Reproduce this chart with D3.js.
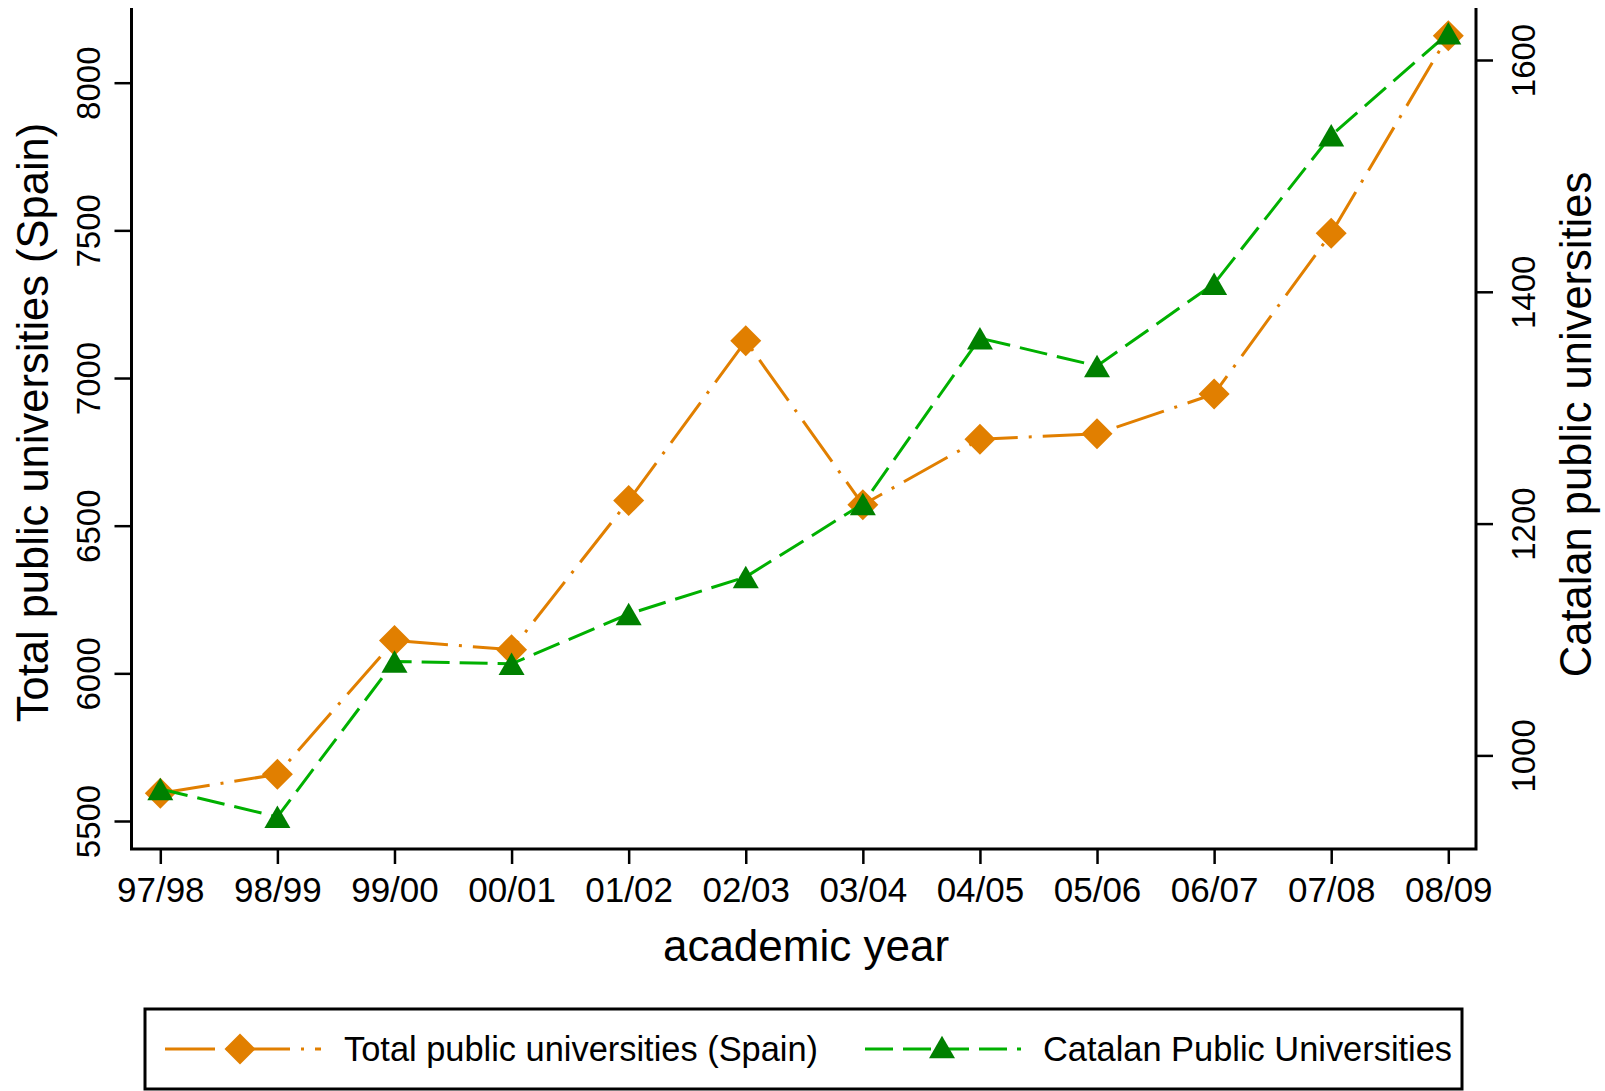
<!DOCTYPE html>
<html>
<head>
<meta charset="utf-8">
<script src="https://cdn.jsdelivr.net/npm/d3@7"></script>
<style>
  html, body { margin: 0; padding: 0; background: #ffffff; }
  svg { display: block; font-family: "Liberation Sans", Arial, Helvetica, sans-serif; }
</style>
</head>
<body>
<svg id="chart" width="1605" height="1091"></svg>
<script>
// ---------- data ----------
const years = ["97/98","98/99","99/00","00/01","01/02","02/03","03/04","04/05","05/06","06/07","07/08","08/09"];
const spainValues = [5594, 5658, 6111, 6080, 6585, 7126, 6571, 6793, 6811, 6946, 7490, 8159];
const catalanValues = [971, 947, 1081, 1079, 1122, 1154, 1217, 1360, 1336, 1407, 1535, 1623];
const leftTicks = [5500, 6000, 6500, 7000, 7500, 8000];
const rightTicks = [1000, 1200, 1400, 1600];
const seriesNames = ["Total public universities (Spain)", "Catalan Public Universities"];

// ---------- layout ----------
const frame = { left: 131.5, right: 1476, top: 8, bottom: 849 };
const orange = "#E17F00";
const greenLine = "#00B000";
const greenMark = "#008000";

const svg = d3.select("#chart");

const x = d3.scalePoint().domain(years).range([160.3, 1448.3]);
const yL = d3.scaleLinear().domain([5500, 8000]).range([821, 82.7]);
const yR = d3.scaleLinear().domain([1000, 1600]).range([755.4, 60]);

// ---------- axes ----------
const yTickFont = 33;
const xTickFont = 35;

const gL = svg.append("g").attr("transform", `translate(${frame.left},0)`)
  .call(d3.axisLeft(yL).tickValues(leftTicks).tickSize(17).tickSizeOuter(0).tickFormat(d3.format("d")));
gL.select(".domain").remove();
gL.selectAll(".tick line").attr("stroke", "#000").attr("stroke-width", 2.5);
gL.selectAll(".tick text")
  .attr("transform", "rotate(-90)")
  .attr("x", 0).attr("y", -31.5).attr("dy", null)
  .attr("text-anchor", "middle")
  .attr("fill", "#000")
  .style("font-size", yTickFont + "px")
  .style("font-family", '"Liberation Sans", Arial, sans-serif');

const gR = svg.append("g").attr("transform", `translate(${frame.right},0)`)
  .call(d3.axisRight(yR).tickValues(rightTicks).tickSize(17).tickSizeOuter(0).tickFormat(d3.format("d")));
gR.select(".domain").remove();
gR.selectAll(".tick line").attr("stroke", "#000").attr("stroke-width", 2.5);
gR.selectAll(".tick text")
  .attr("transform", "rotate(-90)")
  .attr("x", 0).attr("y", 59).attr("dy", null)
  .attr("text-anchor", "middle")
  .attr("fill", "#000")
  .style("font-size", yTickFont + "px")
  .style("font-family", '"Liberation Sans", Arial, sans-serif');

const gX = svg.append("g").attr("transform", `translate(0,${frame.bottom})`)
  .call(d3.axisBottom(x).tickSize(15).tickSizeOuter(0));
gX.select(".domain").remove();
gX.selectAll(".tick line").attr("stroke", "#000").attr("stroke-width", 2.5);
gX.selectAll(".tick text")
  .attr("y", 53).attr("dy", null)
  .attr("fill", "#000")
  .style("font-size", xTickFont + "px")
  .style("font-family", '"Liberation Sans", Arial, sans-serif');

// frame lines (left, bottom, right)
svg.append("path")
  .attr("d", `M${frame.left},${frame.top}V${frame.bottom}H${frame.right}V${frame.top}`)
  .attr("fill", "none").attr("stroke", "#000").attr("stroke-width", 3);

// axis titles
svg.append("text")
  .attr("transform", `translate(48,${(frame.top + frame.bottom) / 2 - 6}) rotate(-90)`)
  .attr("text-anchor", "middle")
  .style("font-size", "43.5px")
  .text("Total public universities (Spain)");

svg.append("text")
  .attr("transform", `translate(1591,${(frame.top + frame.bottom) / 2 - 4}) rotate(-90)`)
  .attr("text-anchor", "middle")
  .style("font-size", "43.5px")
  .text("Catalan public universities");

svg.append("text")
  .attr("x", 806).attr("y", 961)
  .attr("text-anchor", "middle")
  .style("font-size", "44px")
  .text("academic year");

// ---------- series ----------
const orangeDash = "50,11,3,11";
const greenDash = "28,10";
const diagonal = 31;
const diamond = d3.symbol().type(d3.symbolSquare).size((diagonal / Math.SQRT2) ** 2);
const triSide = 26;
const triSize = Math.sqrt(3) / 4 * triSide * triSide;
const triH = Math.sqrt(3) / 2 * triSide;
const triangle = d3.symbol().type(d3.symbolTriangle).size(triSize);

const spainData = years.map((y, i) => ({ year: y, v: spainValues[i] }));
const catData = years.map((y, i) => ({ year: y, v: catalanValues[i] }));

svg.append("path")
  .datum(spainData)
  .attr("d", d3.line().x(d => x(d.year)).y(d => yL(d.v)))
  .attr("fill", "none").attr("stroke", orange).attr("stroke-width", 3)
  .attr("stroke-dasharray", orangeDash);

svg.append("g").selectAll("path").data(spainData).join("path")
  .attr("d", diamond)
  .attr("transform", d => `translate(${x(d.year)},${yL(d.v)}) rotate(45)`)
  .attr("fill", orange);

svg.append("path")
  .datum(catData)
  .attr("d", d3.line().x(d => x(d.year)).y(d => yR(d.v)))
  .attr("fill", "none").attr("stroke", greenLine).attr("stroke-width", 3)
  .attr("stroke-dasharray", greenDash);

svg.append("g").selectAll("path").data(catData).join("path")
  .attr("d", triangle)
  .attr("transform", d => `translate(${x(d.year)},${yR(d.v) + triH / 6})`)
  .attr("fill", greenMark);

// ---------- legend ----------
const lg = svg.append("g");
lg.append("rect")
  .attr("x", 145).attr("y", 1009).attr("width", 1317).attr("height", 80)
  .attr("fill", "#fff").attr("stroke", "#000").attr("stroke-width", 3);

const legendY = 1049;
lg.append("line")
  .attr("x1", 165).attr("x2", 321).attr("y1", legendY).attr("y2", legendY)
  .attr("stroke", orange).attr("stroke-width", 3).attr("stroke-dasharray", orangeDash);
lg.append("path").attr("d", diamond)
  .attr("transform", `translate(240,${legendY}) rotate(45)`).attr("fill", orange);
lg.append("text").attr("x", 344).attr("y", legendY + 12)
  .style("font-size", "34.4px").text(seriesNames[0]);

lg.append("line")
  .attr("x1", 865).attr("x2", 1021).attr("y1", legendY).attr("y2", legendY)
  .attr("stroke", greenLine).attr("stroke-width", 3).attr("stroke-dasharray", greenDash);
lg.append("path").attr("d", triangle)
  .attr("transform", `translate(942,${legendY - 2 + triH / 6})`).attr("fill", greenMark);
lg.append("text").attr("x", 1043).attr("y", legendY + 12)
  .style("font-size", "34.4px").text(seriesNames[1]);
</script>
</body>
</html>
